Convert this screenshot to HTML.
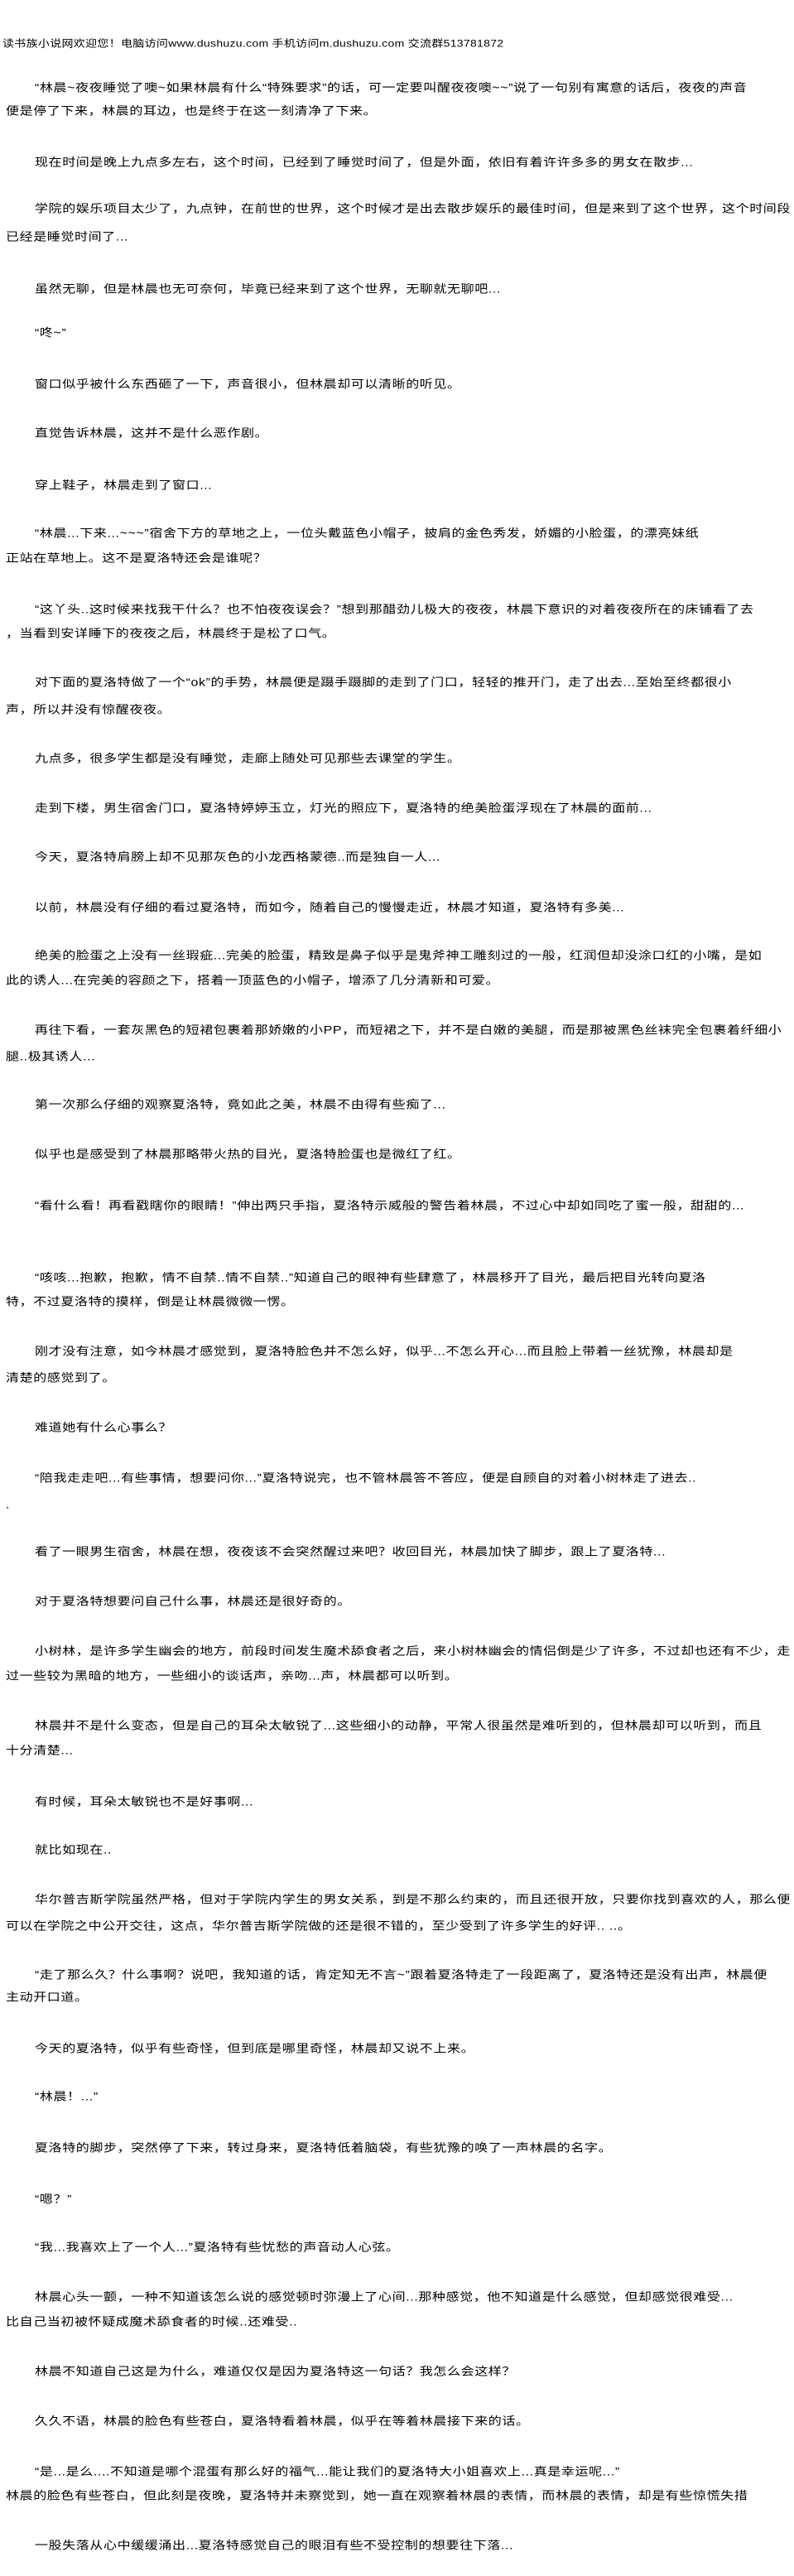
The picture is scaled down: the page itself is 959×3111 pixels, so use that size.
<!DOCTYPE html>
<html><head><meta charset="utf-8">
<style>
html,body{margin:0;padding:0;background:#fff;}
body{width:959px;height:3111px;position:relative;overflow:hidden;}
.l{position:absolute;white-space:nowrap;font-family:"Liberation Sans","Noto Sans CJK SC","WenQuanYi Zen Hei",sans-serif;font-size:16px;letter-spacing:0.6px;line-height:16px;color:#000;transform:scaleY(0.85);transform-origin:left center;}
.h{font-size:14px;letter-spacing:0.3px;}
.i{left:42px;}
.c{left:7px;}
</style></head><body>
<div class="l h" style="left:3px;top:44px">读书族小说网欢迎您！电脑访问www.dushuzu.com 手机访问m.dushuzu.com 交流群513781872</div>

<div class="l i" style="top:99px">“林晨~夜夜睡觉了噢~如果林晨有什么“特殊要求”的话，可一定要叫醒夜夜噢~~”说了一句别有寓意的话后，夜夜的声音</div>
<div class="l c" style="top:127px">便是停了下来，林晨的耳边，也是终于在这一刻清净了下来。</div>

<div class="l i" style="top:189px">现在时间是晚上九点多左右，这个时间，已经到了睡觉时间了，但是外面，依旧有着许许多多的男女在散步...</div>

<div class="l i" style="top:245px">学院的娱乐项目太少了，九点钟，在前世的世界，这个时候才是出去散步娱乐的最佳时间，但是来到了这个世界，这个时间段</div>
<div class="l c" style="top:279px">已经是睡觉时间了...</div>

<div class="l i" style="top:342px">虽然无聊，但是林晨也无可奈何，毕竟已经来到了这个世界，无聊就无聊吧...</div>

<div class="l i" style="top:395px">“咚~”</div>

<div class="l i" style="top:457px">窗口似乎被什么东西砸了一下，声音很小，但林晨却可以清晰的听见。</div>

<div class="l i" style="top:516px">直觉告诉林晨，这并不是什么恶作剧。</div>

<div class="l i" style="top:579px">穿上鞋子，林晨走到了窗口...</div>

<div class="l i" style="top:637px">“林晨...下来...~~~”宿舍下方的草地之上，一位头戴蓝色小帽子，披肩的金色秀发，娇媚的小脸蛋，的漂亮妹纸</div>
<div class="l c" style="top:667px">正站在草地上。这不是夏洛特还会是谁呢？</div>

<div class="l i" style="top:729px">“这丫头..这时候来找我干什么？也不怕夜夜误会？”想到那醋劲儿极大的夜夜，林晨下意识的对着夜夜所在的床铺看了去</div>
<div class="l c" style="top:758px">，当看到安详睡下的夜夜之后，林晨终于是松了口气。</div>

<div class="l i" style="top:817px">对下面的夏洛特做了一个“ok”的手势，林晨便是蹑手蹑脚的走到了门口，轻轻的推开门，走了出去...至始至终都很小</div>
<div class="l c" style="top:850px">声，所以并没有惊醒夜夜。</div>

<div class="l i" style="top:909px">九点多，很多学生都是没有睡觉，走廊上随处可见那些去课堂的学生。</div>

<div class="l i" style="top:969px">走到下楼，男生宿舍门口，夏洛特婷婷玉立，灯光的照应下，夏洛特的绝美脸蛋浮现在了林晨的面前...</div>

<div class="l i" style="top:1028px">今天，夏洛特肩膀上却不见那灰色的小龙西格蒙德..而是独自一人...</div>

<div class="l i" style="top:1089px">以前，林晨没有仔细的看过夏洛特，而如今，随着自己的慢慢走近，林晨才知道，夏洛特有多美...</div>

<div class="l i" style="top:1147px">绝美的脸蛋之上没有一丝瑕疵...完美的脸蛋，精致是鼻子似乎是鬼斧神工雕刻过的一般，红润但却没涂口红的小嘴，是如</div>
<div class="l c" style="top:1177px">此的诱人...在完美的容颜之下，搭着一顶蓝色的小帽子，增添了几分清新和可爱。</div>

<div class="l i" style="top:1237px">再往下看，一套灰黑色的短裙包裹着那娇嫩的小PP，而短裙之下，并不是白嫩的美腿，而是那被黑色丝袜完全包裹着纤细小</div>
<div class="l c" style="top:1269px">腿..极其诱人...</div>

<div class="l i" style="top:1327px">第一次那么仔细的观察夏洛特，竟如此之美，林晨不由得有些痴了...</div>

<div class="l i" style="top:1387px">似乎也是感受到了林晨那略带火热的目光，夏洛特脸蛋也是微红了红。</div>

<div class="l i" style="top:1449px">“看什么看！再看戳瞎你的眼睛！”伸出两只手指，夏洛特示威般的警告着林晨，不过心中却如同吃了蜜一般，甜甜的...</div>

<div class="l i" style="top:1536px">“咳咳...抱歉，抱歉，情不自禁..情不自禁..”知道自己的眼神有些肆意了，林晨移开了目光，最后把目光转向夏洛</div>
<div class="l c" style="top:1565px">特，不过夏洛特的摸样，倒是让林晨微微一愣。</div>

<div class="l i" style="top:1625px">刚才没有注意，如今林晨才感觉到，夏洛特脸色并不怎么好，似乎...不怎么开心...而且脸上带着一丝犹豫，林晨却是</div>
<div class="l c" style="top:1657px">清楚的感觉到了。</div>

<div class="l i" style="top:1717px">难道她有什么心事么？</div>

<div class="l i" style="top:1778px">“陪我走走吧...有些事情，想要问你...”夏洛特说完，也不管林晨答不答应，便是自顾自的对着小树林走了进去..</div>
<div class="l c" style="top:1810px">.</div>

<div class="l i" style="top:1867px">看了一眼男生宿舍，林晨在想，夜夜该不会突然醒过来吧？收回目光，林晨加快了脚步，跟上了夏洛特...</div>

<div class="l i" style="top:1927px">对于夏洛特想要问自己什么事，林晨还是很好奇的。</div>

<div class="l i" style="top:1987px">小树林，是许多学生幽会的地方，前段时间发生魔术舔食者之后，来小树林幽会的情侣倒是少了许多，不过却也还有不少，走</div>
<div class="l c" style="top:2017px">过一些较为黑暗的地方，一些细小的谈话声，亲吻...声，林晨都可以听到。</div>

<div class="l i" style="top:2077px">林晨并不是什么变态，但是自己的耳朵太敏锐了...这些细小的动静，平常人很虽然是难听到的，但林晨却可以听到，而且</div>
<div class="l c" style="top:2107px">十分清楚...</div>

<div class="l i" style="top:2169px">有时候，耳朵太敏锐也不是好事啊...</div>

<div class="l i" style="top:2227px">就比如现在..</div>

<div class="l i" style="top:2287px">华尔普吉斯学院虽然严格，但对于学院内学生的男女关系，到是不那么约束的，而且还很开放，只要你找到喜欢的人，那么便</div>
<div class="l c" style="top:2319px">可以在学院之中公开交往，这点，华尔普吉斯学院做的还是很不错的，至少受到了许多学生的好评.. ..。</div>

<div class="l i" style="top:2378px">“走了那么久？什么事啊？说吧，我知道的话，肯定知无不言~”跟着夏洛特走了一段距离了，夏洛特还是没有出声，林晨便</div>
<div class="l c" style="top:2405px">主动开口道。</div>

<div class="l i" style="top:2467px">今天的夏洛特，似乎有些奇怪，但到底是哪里奇怪，林晨却又说不上来。</div>

<div class="l i" style="top:2525px">“林晨！...”</div>

<div class="l i" style="top:2587px">夏洛特的脚步，突然停了下来，转过身来，夏洛特低着脑袋，有些犹豫的唤了一声林晨的名字。</div>

<div class="l i" style="top:2649px">“嗯？”</div>

<div class="l i" style="top:2707px">“我...我喜欢上了一个人...”夏洛特有些忧愁的声音动人心弦。</div>

<div class="l i" style="top:2767px">林晨心头一颤，一种不知道该怎么说的感觉顿时弥漫上了心间...那种感觉，他不知道是什么感觉，但却感觉很难受...</div>
<div class="l c" style="top:2797px">比自己当初被怀疑成魔术舔食者的时候..还难受..</div>

<div class="l i" style="top:2857px">林晨不知道自己这是为什么，难道仅仅是因为夏洛特这一句话？我怎么会这样？</div>

<div class="l i" style="top:2917px">久久不语，林晨的脸色有些苍白，夏洛特看着林晨，似乎在等着林晨接下来的话。</div>

<div class="l i" style="top:2978px">“是...是么....不知道是哪个混蛋有那么好的福气...能让我们的夏洛特大小姐喜欢上...真是幸运呢...”</div>
<div class="l c" style="top:3007px">林晨的脸色有些苍白，但此刻是夜晚，夏洛特并未察觉到，她一直在观察着林晨的表情，而林晨的表情，却是有些惊慌失措</div>

<div class="l i" style="top:3067px">一股失落从心中缓缓涌出...夏洛特感觉自己的眼泪有些不受控制的想要往下落...</div>
</body></html>
